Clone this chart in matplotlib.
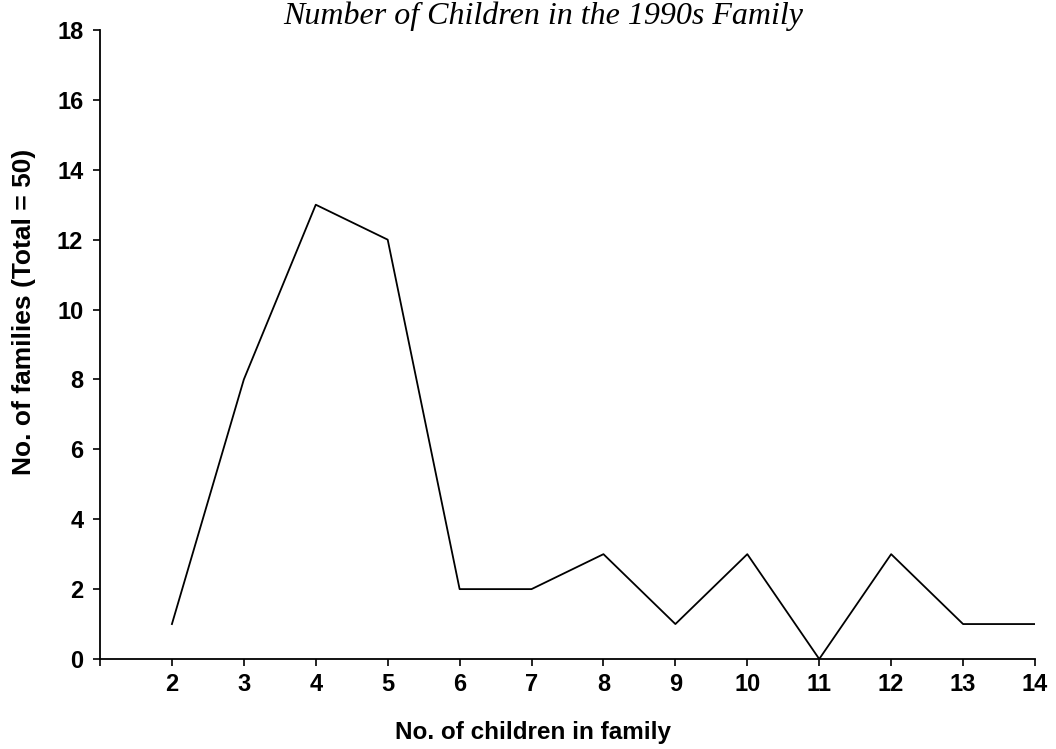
import matplotlib
matplotlib.use("Agg")
import matplotlib.pyplot as plt

children = [2, 3, 4, 5, 6, 7, 8, 9, 10, 11, 12, 13, 14]
families = [1, 8, 13, 12, 2, 2, 3, 1, 3, 0, 3, 1, 1]
y_ticks = [0, 2, 4, 6, 8, 10, 12, 14, 16, 18]

plt.rcParams['font.family'] = ['Liberation Sans', 'DejaVu Sans']

fig = plt.figure(figsize=(10.56, 7.49), dpi=100)
ax = fig.add_axes([100 / 1056, 1 - 659 / 749, 935 / 1056, 629 / 749])

ax.plot(children, families, color='black', linewidth=1.3)

ax.set_xlim(1, 14)
ax.set_ylim(0, 18)
ax.set_xticks([1] + children)
ax.set_xticklabels([''] + [str(c) for c in children])
ax.set_yticks(y_ticks)

for s in ['top', 'right']:
    ax.spines[s].set_visible(False)
for s in ['left', 'bottom']:
    ax.spines[s].set_linewidth(1.3)

ax.tick_params(direction='out', length=5, width=1.2, labelsize=17)
ax.tick_params(axis='y', pad=7)
ax.tick_params(axis='x', pad=5)
for lab in ax.get_xticklabels() + ax.get_yticklabels():
    lab.set_fontweight('bold')

ax.set_xlabel("No. of children in family", fontsize=17.5, fontweight='bold')
ax.xaxis.set_label_coords((533 - 100) / 935, -(733 - 659) / 629)
ax.xaxis.label.set_va('center')
ax.set_ylabel("No. of families (Total = 50)", fontsize=19, fontweight='bold')
ax.yaxis.set_label_coords((24 - 100) / 935, (659 - 312) / 629)
ax.yaxis.label.set_va('center')

# title sits at the very top edge, as in the scanned original
fig.text(543 / 1056, 1 - 24 / 749, "Number of Children in the 1990s Family",
         family='Liberation Serif', style='italic', fontsize=23,
         ha='center', va='baseline')

fig.savefig("out.png", dpi=100)
